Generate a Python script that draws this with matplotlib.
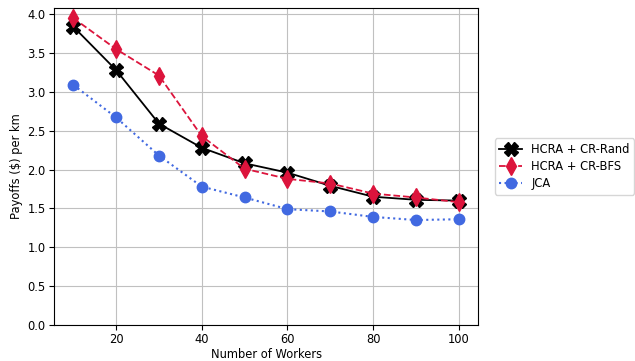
import matplotlib.pyplot as plt

workers = [10, 20, 30, 40, 50, 60, 70, 80, 90, 100]
hcra_rand = [3.84, 3.28, 2.59, 2.28, 2.08, 1.96, 1.79, 1.65, 1.61, 1.60]
hcra_bfs = [3.95, 3.55, 3.21, 2.43, 2.01, 1.88, 1.82, 1.69, 1.64, 1.58]
jca = [3.09, 2.67, 2.18, 1.78, 1.64, 1.49, 1.46, 1.39, 1.35, 1.36]

fs = 8.3
fig, ax = plt.subplots(figsize=(6.35, 3.61), dpi=100)
ax.plot(workers, hcra_rand, color='black', linestyle='-', linewidth=1.3, marker='X', markersize=10, label='HCRA + CR-Rand')
ax.plot(workers, hcra_bfs, color='crimson', linestyle='--', linewidth=1.3, marker='d', markersize=9, label='HCRA + CR-BFS')
ax.plot(workers, jca, color='royalblue', linestyle=':', linewidth=1.5, marker='o', markersize=7.5, label='JCA')
ax.set_ylim(bottom=0)
ax.set_xlabel('Number of Workers', fontsize=fs, labelpad=1.5)
ax.set_ylabel('Payoffs ($) per km', fontsize=fs, labelpad=3)
ax.tick_params(labelsize=fs, pad=2.5)
ax.grid(True, color='#c0c0c0')
ax.legend(loc='center left', bbox_to_anchor=(1.025, 0.5), fontsize=fs, labelspacing=0.35)
plt.subplots_adjust(left=0.085, right=0.753, top=0.978, bottom=0.1)
plt.savefig('out.png')
